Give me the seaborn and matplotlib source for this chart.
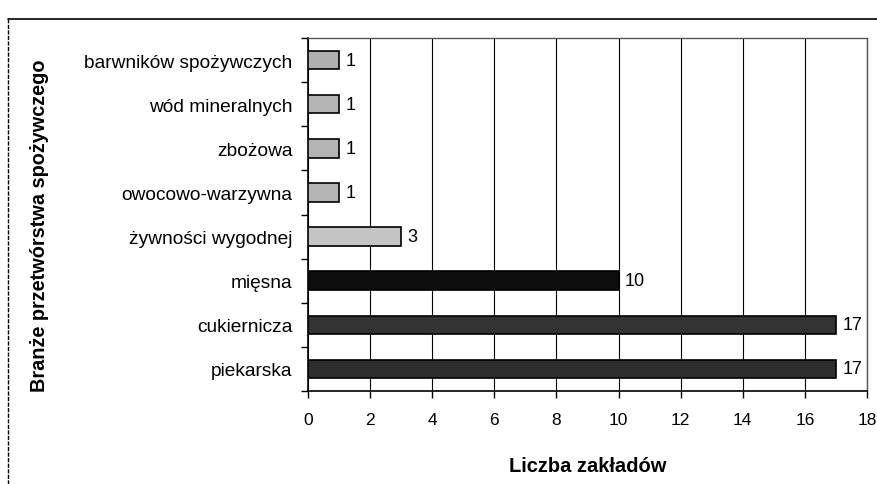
import pandas as pd
import numpy as np
import matplotlib
matplotlib.use('Agg')
import matplotlib.pyplot as plt
from matplotlib.lines import Line2D
import seaborn as sns

# ── Data ───────────────────────────────────────────────────────────────────────
branches = ['barwników spożywczych', 'wód mineralnych', 'zbożowa',
            'owocowo-warzywna', 'żywności wygodnej', 'mięsna',
            'cukiernicza', 'piekarska']
counts = [1, 1, 1, 1, 3, 10, 17, 17]
bar_colors = ['#b0b0b0', '#b4b4b4', '#b4b4b4', '#b4b4b4',
              '#c4c4c4', '#0e0e0e', '#333333', '#2e2e2e']
x_ticks = [0, 2, 4, 6, 8, 10, 12, 14, 16, 18]

df = pd.DataFrame({'branza': branches, 'liczba': counts})

# ── Style ──────────────────────────────────────────────────────────────────────
sns.set_theme(style='white')
plt.rcParams['font.family'] = ['Liberation Sans', 'DejaVu Sans']

fig = plt.figure(figsize=(8.78, 4.85), dpi=100)
ax = fig.add_axes([308/878, 1 - 392/485, 559/878, 353/485])

sns.barplot(data=df, y='branza', x='liczba', hue='branza', order=branches,
            palette=bar_colors, legend=False, orient='h', width=0.42,
            edgecolor='black', linewidth=1.2, ax=ax, zorder=3)

ax.set_xlim(0, 18)
ax.set_ylim(len(branches) - 0.5, -0.5)
ax.set_xticks(x_ticks)
ax.set_xticklabels([str(t) for t in x_ticks], fontsize=12.5)
ax.xaxis.grid(True, color='black', linewidth=0.8, zorder=0)
ax.yaxis.grid(False)

# category boundary ticks on y
ax.set_yticks(np.arange(-0.5, len(branches), 1.0), minor=True)
ax.tick_params(axis='y', which='major', length=0, pad=11, labelsize=13.8, colors='black')
ax.tick_params(axis='y', which='minor', length=5, width=1, color='black', direction='out', left=True)
ax.tick_params(axis='x', length=5, width=1, color='black', direction='out', bottom=True, pad=10, colors='black')

for side in ['left', 'bottom']:
    ax.spines[side].set_color('black')
    ax.spines[side].set_linewidth(1.2)
for side in ['top', 'right']:
    ax.spines[side].set_color('#555555')
    ax.spines[side].set_linewidth(1.0)
    ax.spines[side].set_linestyle((0, (2, 1)))

for i, v in enumerate(counts):
    ax.text(v + 0.2, i, str(v), va='center', ha='left', fontsize=13, color='black', zorder=4)

ax.set_xlabel('Liczba zakładów', fontsize=14.5, fontweight='bold', labelpad=21, color='black')
ax.set_ylabel('')
fig.text(40/878, 1 - 226/485, 'Branże przetwórstwa spożywczego', rotation=90,
         ha='center', va='center', fontsize=14.3, fontweight='bold', color='black')

# outer frame of the scanned chart
fig.add_artist(Line2D([8/878, 1.0], [1 - 20/485, 1 - 20/485], transform=fig.transFigure,
                      color='black', linewidth=1.2))
fig.add_artist(Line2D([8/878, 8/878], [0.0, 1 - 20/485], transform=fig.transFigure,
                      color='black', linewidth=1.0, linestyle=(0, (3, 1))))

fig.savefig('out.png', dpi=100)
